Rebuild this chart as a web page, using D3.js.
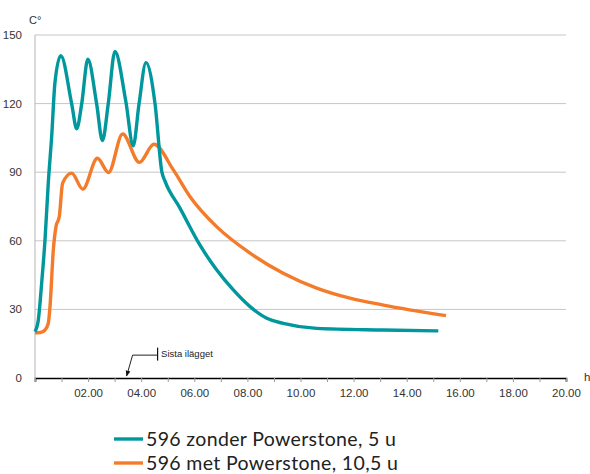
<!DOCTYPE html>
<html>
<head>
<meta charset="utf-8">
<script src="https://cdn.jsdelivr.net/npm/d3@7"></script>
<style>
  body { margin: 0; background: #fff; }
  svg { display: block; font-family: "Liberation Sans", Arial, sans-serif; }
</style>
</head>
<body>
<div id="chart"></div>
<script>
// hours since start, temperature in °C
const zonderTime = [0, 0.125, 0.25, 0.377, 0.5, 0.63, 0.75, 0.97, 1.38, 1.57, 1.76, 1.99, 2.32, 2.54, 2.76, 3.01, 3.42, 3.70, 3.92, 4.18, 4.52, 4.78, 4.9, 5.46, 6.21, 6.84, 7.47, 8.10, 8.73, 9.35, 10.61, 13.12, 15.19];
const zonderTemp = [20.3, 25.4, 41.4, 60.4, 85.2, 106, 129, 141, 120, 109, 120, 139.4, 120, 103.8, 120, 142.8, 121, 101.6, 120, 137.9, 120, 90, 86, 74.3, 58.2, 47.3, 38.5, 31.2, 26.1, 23.9, 21.7, 21.0, 20.6];

const metTime = [0, 0.2, 0.377, 0.5, 0.565, 0.69, 0.79, 0.915, 1.04, 1.38, 1.80, 2.35, 2.77, 3.30, 3.93, 4.48, 5.21, 5.84, 6.84, 8.10, 9.35, 10.61, 11.86, 13.12, 15.48];
const metTemp = [19.8, 19.9, 21.0, 23.9, 31.2, 56, 66.2, 70.6, 85.2, 89.6, 82.6, 96.1, 89.9, 106.7, 94.3, 102.2, 91, 79.3, 66.2, 54.6, 45.8, 39.3, 34.9, 31.9, 27.3];

const yTicks = [0, 30, 60, 90, 120, 150];
const xTicks = [0, 1, 2, 3, 4, 5, 6, 7, 8, 9, 10, 11, 12, 13, 14, 15, 16, 17, 18, 19, 20];
const xLabelTicks = [2, 4, 6, 8, 10, 12, 14, 16, 18, 20];

const seriesNames = ["596 zonder Powerstone, 5 u", "596 met Powerstone, 10,5 u"];
const seriesColors = ["#00979d", "#f47b2a"];

const lastLoad = 3.45; // "Sista ilägget"

const width = 590, height = 474;
const margin = { left: 35, right: 24, top: 35, bottom: 96 };

const svg = d3.select('#chart')
  .append('svg')
  .attr('width', width)
  .attr('height', height);

const x = d3.scaleLinear().domain([0, 20]).range([margin.left, width - margin.right]);
const y = d3.scaleLinear().domain([0, 150]).range([height - margin.bottom, margin.top]);

// gridlines
svg.append('g')
  .selectAll('line')
  .data(yTicks.filter(d => d > 0))
  .enter()
  .append('line')
  .attr('x1', x(0))
  .attr('x2', x(20))
  .attr('y1', d => y(d))
  .attr('y2', d => y(d))
  .style('stroke', '#c6c6c6')
  .style('stroke-width', 1);

// y axis
svg.append('line')
  .attr('x1', x(0)).attr('x2', x(0))
  .attr('y1', y(150)).attr('y2', y(0))
  .style('stroke', '#b5b5b5')
  .style('stroke-width', 1);

svg.append('g')
  .selectAll('text')
  .data(yTicks)
  .enter()
  .append('text')
  .attr('x', x(0) - 13)
  .attr('y', d => y(d))
  .attr('dy', '0.35em')
  .attr('text-anchor', 'end')
  .style('font-size', '11.5px')
  .style('fill', '#333')
  .text(d => d);

svg.append('text')
  .attr('x', 29)
  .attr('y', 24)
  .style('font-size', '11px')
  .style('fill', '#333')
  .text('C°');

// x axis
const xAxis = d3.axisBottom(x)
  .tickValues(xTicks)
  .tickSize(4)
  .tickFormat(d => xLabelTicks.includes(d) ? d3.format('05.2f')(d) : '');

const gx = svg.append('g')
  .attr('transform', `translate(0,${y(0)})`)
  .call(xAxis);
gx.select('.domain').style('stroke', '#000').style('stroke-width', 1.6);
gx.selectAll('.tick line').style('stroke', '#999');
gx.selectAll('.tick text')
  .attr('y', 11)
  .style('font-size', '11.5px')
  .style('fill', '#333')
  .style('font-family', '"Liberation Sans", Arial, sans-serif');

svg.append('text')
  .attr('x', x(20) + 18)
  .attr('y', y(0) + 3)
  .style('font-size', '11.5px')
  .style('fill', '#333')
  .text('h');

// lines
const line = d3.line()
  .x(d => x(d[0]))
  .y(d => y(d[1]))
  .curve(d3.curveMonotoneX);

const series = [
  d3.zip(zonderTime, zonderTemp),
  d3.zip(metTime, metTemp)
];

svg.append('g')
  .selectAll('path')
  .data([1, 0])
  .enter()
  .append('path')
  .attr('d', i => line(series[i]))
  .style('fill', 'none')
  .style('stroke', i => seriesColors[i])
  .style('stroke-width', 3.4)
  .style('stroke-linejoin', 'round');

// annotation
svg.append('defs').append('marker')
  .attr('id', 'arrow')
  .attr('viewBox', '0 0 10 10')
  .attr('refX', 9).attr('refY', 5)
  .attr('markerWidth', 6).attr('markerHeight', 6)
  .attr('orient', 'auto')
  .append('path')
  .attr('d', 'M0,1 L10,5 L0,9 Z')
  .style('fill', '#111');

const ax = x(lastLoad);
const annot = svg.append('g');
annot.append('path')
  .attr('d', `M${ax + 31},${y(10)} L${ax + 6},${y(10)} L${ax},${y(0) - 2}`)
  .style('fill', 'none')
  .style('stroke', '#222')
  .style('stroke-width', 1)
  .attr('marker-end', 'url(#arrow)');
annot.append('line')
  .attr('x1', ax + 31).attr('x2', ax + 31)
  .attr('y1', y(10) - 7.5).attr('y2', y(10) + 5.5)
  .style('stroke', '#111')
  .style('stroke-width', 1.2);
annot.append('text')
  .attr('x', ax + 34.5)
  .attr('y', y(10) - 1.5)
  .attr('dy', '0.35em')
  .style('font-size', '9.5px')
  .style('fill', '#222')
  .text('Sista ilägget');

// legend
const legend = svg.append('g')
  .selectAll('g')
  .data(seriesNames)
  .enter()
  .append('g')
  .attr('transform', (d, i) => `translate(114,${439 + i * 24})`);

legend.append('line')
  .attr('x1', 0).attr('x2', 29)
  .attr('y1', 0).attr('y2', 0)
  .style('stroke', (d, i) => seriesColors[i])
  .style('stroke-width', 3.4);

legend.append('text')
  .attr('x', 32)
  .attr('y', 0)
  .attr('dy', '0.36em')
  .style('font-family', 'Lato, sans-serif')
  .style('font-size', '19.5px')
  .style('letter-spacing', '0.35px')
  .style('fill', '#222')
  .text(d => d);
</script>
</body>
</html>
